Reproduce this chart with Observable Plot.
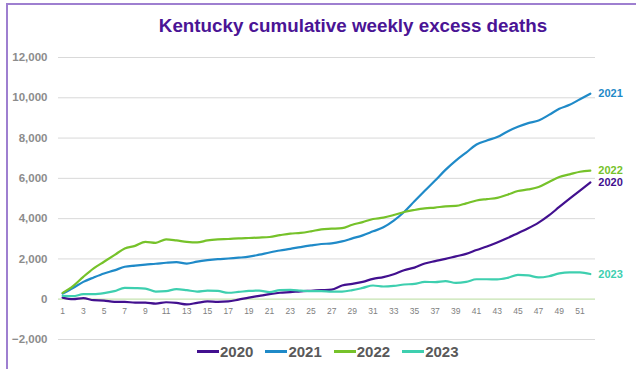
<!DOCTYPE html>
<html>
<head>
<meta charset="utf-8">
<script src="https://cdn.jsdelivr.net/npm/d3@7"></script>
<script src="https://cdn.jsdelivr.net/npm/@observablehq/plot@0.6"></script>
<style>
  html, body { margin: 0; padding: 0; background: #fff; }
  #wrap { position: relative; width: 636px; height: 369px; overflow: hidden; font-family: Arial, "Liberation Sans", sans-serif; }
  #frameTop { position: absolute; left: 6px; top: 3px; width: 640px; height: 2px; background: #9e7fd0; }
  #frameLeft { position: absolute; left: 6px; top: 3px; width: 2px; height: 380px; background: #9e7fd0; }
  #title { position: absolute; left: 0; width: 636px; top: 15px; text-align: center; padding-left: 70px; box-sizing: border-box;
           font-weight: bold; font-size: 18.8px; color: #4a1495; white-space: nowrap; }
  #chart { position: absolute; left: 0; top: 0; }
  #legend { position: absolute; top: 343px; left: 197px; display: flex; gap: 12px; font-weight: bold; font-size: 15px; color: #595959; }
  #legend .item { display: flex; align-items: center; }
  #legend .sw { display: inline-block; width: 22px; height: 3px; margin-right: 1px; }
</style>
</head>
<body>
<div id="wrap">
  <div id="chart"></div>
  <div id="frameTop"></div>
  <div id="frameLeft"></div>
  <div id="title">Kentucky cumulative weekly excess deaths</div>
  <div id="legend"></div>
</div>
<script>
const weeks = d3.range(1, 53);
const years = ["2020", "2021", "2022", "2023"];
const colors = ["#42108f", "#1f8ac8", "#76c22a", "#3ecfaf"];
const yTicks = [-2000, 0, 2000, 4000, 6000, 8000, 10000, 12000];
const xTickLabels = d3.range(1, 52, 2);

const v2020 = [80, 0, 50, -50, -70, -130, -130, -170, -170, -220, -150, -180, -260, -180, -110, -130, -110, -20, 80, 165, 250, 320, 350, 390, 420, 450,
  480, 680, 760, 860, 1010, 1100, 1240, 1440, 1570, 1770, 1890, 2000, 2130, 2250, 2440, 2620, 2820, 3040, 3280, 3520, 3800, 4160, 4580, 4990, 5390, 5800];
const v2021 = [280, 560, 860, 1080, 1280, 1430, 1610, 1670, 1720, 1760, 1810, 1840, 1770, 1870, 1940, 1990, 2020, 2060, 2110, 2210, 2320, 2420, 2500, 2590, 2670, 2740,
  2770, 2870, 3020, 3170, 3370, 3570, 3900, 4330, 4860, 5380, 5890, 6420, 6880, 7280, 7680, 7880, 8050, 8330, 8560, 8740, 8870, 9150, 9450, 9650, 9930, 10200];
const v2022 = [313, 650, 1110, 1530, 1860, 2190, 2520, 2650, 2850, 2800, 2970, 2920, 2850, 2820, 2920, 2970, 2990, 3020, 3040, 3060, 3090, 3180, 3260, 3290, 3370, 3470,
  3500, 3530, 3700, 3830, 3980, 4050, 4180, 4330, 4430, 4510, 4550, 4610, 4630, 4760, 4900, 4970, 5030, 5190, 5370, 5450, 5570, 5820, 6070, 6200, 6330, 6380];
const v2023 = [170, 150, 250, 250, 300, 400, 560, 550, 530, 380, 400, 500, 450, 380, 430, 410, 320, 360, 410, 430, 350, 450, 460, 430, 400, 400,
  380, 380, 450, 560, 680, 630, 660, 730, 760, 860, 850, 900, 810, 860, 990, 990, 980, 1060, 1210, 1180, 1080, 1140, 1280, 1330, 1330, 1250];

const series = [v2020, v2021, v2022, v2023];
const rows = [];
series.forEach((vals, i) => vals.forEach((v, j) => rows.push({year: years[i], week: weeks[j], value: v})));
const lastRows = years.map((y, i) => ({year: y, week: 52, value: series[i][51]}));
const xTickRows = xTickLabels.map(w => ({week: w, label: String(w)}));

const plot = Plot.plot({
  width: 636,
  height: 369,
  marginTop: 57,
  marginBottom: 30,
  marginLeft: 58,
  marginRight: 41,
  style: {fontFamily: "Arial, 'Liberation Sans', sans-serif", background: "transparent"},
  x: {domain: [0.6, 52.5], axis: null},
  y: {domain: [-2000, 12000], ticks: yTicks, label: null, tickFormat: d3.format(",")},
  color: {domain: years, range: colors},
  marks: [
    Plot.ruleY(yTicks.filter(d => d !== 0), {stroke: "#d9d9d9", strokeWidth: 1}),
    Plot.ruleY([0], {stroke: "#c6e3b0", strokeWidth: 1.2}),
    Plot.axisY({ticks: yTicks, tickSize: 0, tickPadding: 11, label: null, tickFormat: d3.format(","),
      fill: "#8c8c8c", fontWeight: "bold", fontSize: 11.5}),
    Plot.text(xTickRows, {x: "week", y: () => 0, dy: 12, text: "label", fill: "#808080", fontSize: 8.5}),
    Plot.line(rows, {x: "week", y: "value", stroke: "year", z: "year", strokeWidth: 2.2, curve: "monotone-x"}),
    Plot.text(lastRows, {x: "week", y: "value", text: "year", fill: "year", dx: 8, textAnchor: "start",
      fontWeight: "bold", fontSize: 11})
  ]
});
document.getElementById("chart").appendChild(plot);

const legend = document.getElementById("legend");
years.forEach((y, i) => {
  const item = document.createElement("div");
  item.className = "item";
  const sw = document.createElement("span");
  sw.className = "sw";
  sw.style.background = colors[i];
  const t = document.createElement("span");
  t.textContent = y;
  item.appendChild(sw);
  item.appendChild(t);
  legend.appendChild(item);
});
</script>
</body>
</html>
